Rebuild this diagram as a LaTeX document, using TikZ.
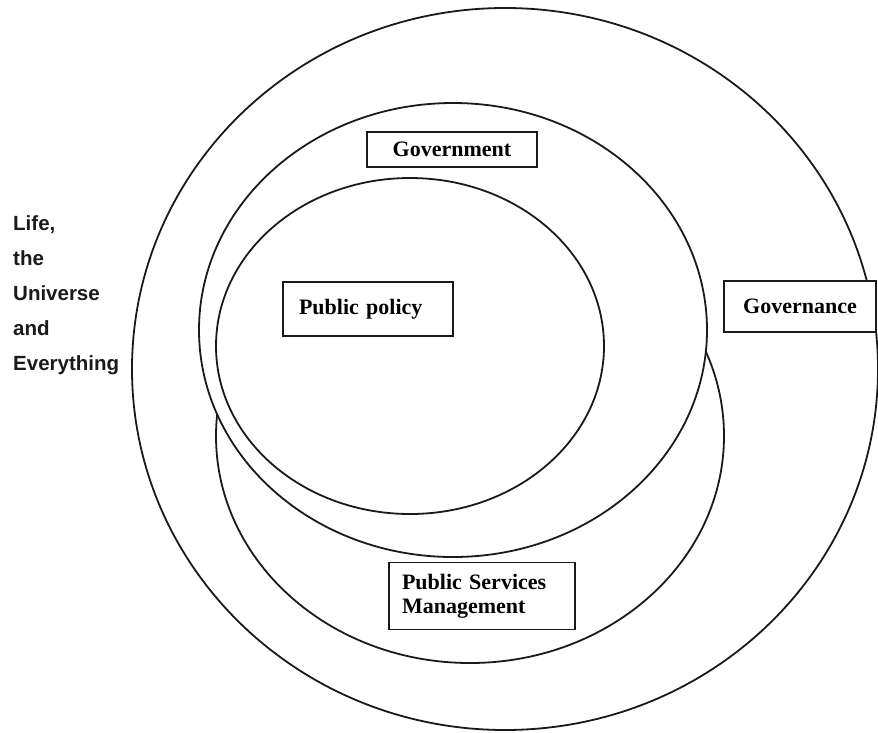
\documentclass[tikz,border=0pt]{standalone}
\usepackage{fontspec}
\setmainfont{Liberation Serif}
\setsansfont{Liberation Sans}
\usetikzlibrary{positioning}
\definecolor{ink}{HTML}{1A1A1A}

\tikzset{
  ring/.style={draw=ink, line width=1.8pt},
  label box/.style={draw=ink, fill=white, line width=1.5pt, inner sep=0pt,
    font=\fontsize{22}{24}\selectfont\bfseries},
}

\begin{document}
\begin{tikzpicture}[x=1pt, y=-1pt]
\useasboundingbox (0,0) rectangle (878,732);
% the whole world, then services, government and policy inside it
\draw[ring] (505,369) ellipse [x radius=373, y radius=361];
\draw[ring] (470,436) ellipse [x radius=254, y radius=227];
\draw[ring, fill=white] (453,330) ellipse [x radius=254, y radius=227];
\draw[ring] (410,346) ellipse [x radius=194, y radius=168];

% labels
\node[label box, minimum width=170pt, minimum height=35pt] (govt) at (452,149.5) {Government};
\node[label box, minimum width=170pt, minimum height=54pt, align=left, text width=138pt] (policy) at (368,309) {Public policy};
\node[label box, minimum width=152pt, minimum height=51pt] (governance) at (800,306.5) {Governance};
\node[label box, minimum width=186pt, minimum height=67pt, align=left, text width=160pt] (psm) at (482,596) {Public Services\\Management};

\node[anchor=north west, inner sep=0pt, align=left, text=ink,
  font=\sffamily\bfseries\fontsize{20.5}{35.2}\selectfont] (life) at (13,215)
  {Life,\\the\\Universe\\and\\Everything};
\end{tikzpicture}
\end{document}
